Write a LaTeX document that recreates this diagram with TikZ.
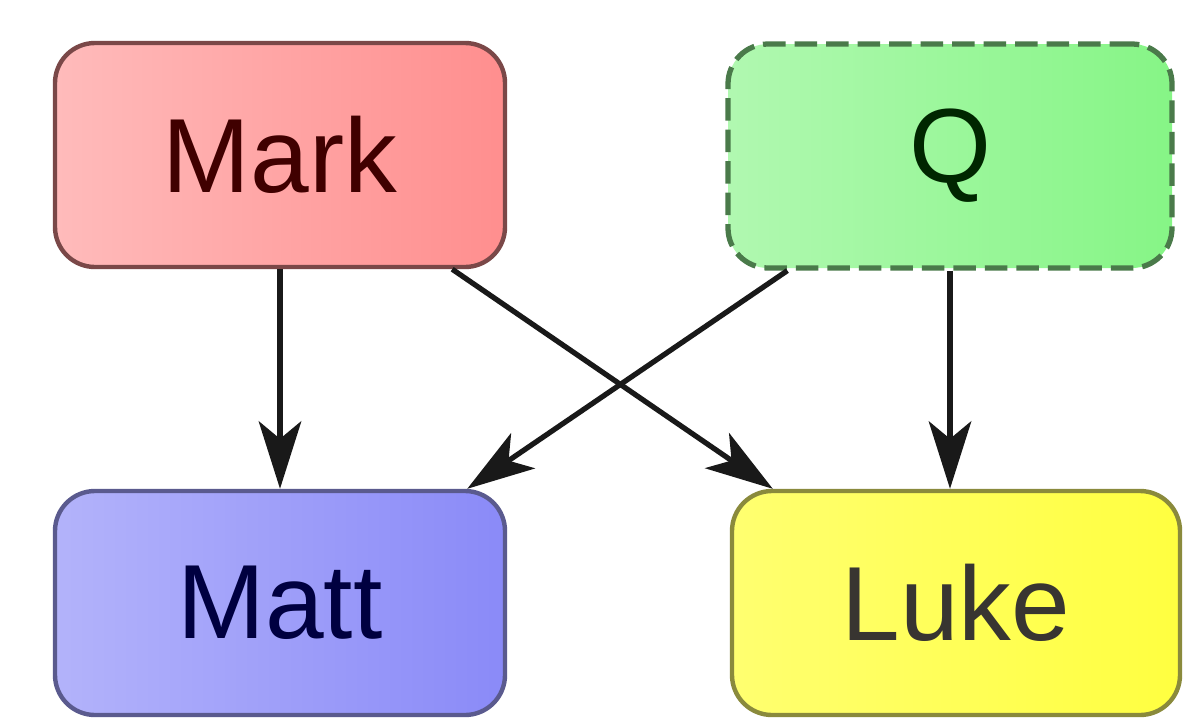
\documentclass[tikz,border=0pt]{standalone}
\usepackage{fontspec}
\setmainfont{Liberation Sans}
\usepackage{tikz}
\usetikzlibrary{arrows.meta}
\definecolor{markfill}{HTML}{FF8E8E}
\definecolor{markline}{HTML}{7A4848}
\definecolor{qfill}{HTML}{86F586}
\definecolor{qline}{HTML}{4A7A4A}
\definecolor{mattfill}{HTML}{8A8AF8}
\definecolor{mattline}{HTML}{5A5A8E}
\definecolor{lukefill}{HTML}{FFFF40}
\definecolor{lukeline}{HTML}{8A8A3C}

\begin{document}
\begin{tikzpicture}[
every node/.style={font=\fontsize{60}{64}\selectfont},
gospel/.style={rounded corners=0.8cm, line width=2.5pt, minimum width=9cm, minimum height=4.48cm, inner sep=0pt},
arr/.style={line width=3pt, draw=black!90, -{Stealth[length=1.35cm, width=0.85cm, inset=0.35cm]}}]
\useasboundingbox (0,0) rectangle (24.08,-14.4);

%the four boxes
\node[gospel, draw=markline, left color=markfill!60, right color=markfill, text=red!25!black] (mark) at (5.6,-3.1) {Mark};
\node[gospel, minimum width=8.88cm, line width=3pt, draw=qline, dash pattern=on 0.45cm off 0.18cm, left color=qfill!65, right color=qfill, text=green!15!black] (q) at (19.0,-3.12) {Q};
\node[gospel, draw=mattline, left color=mattfill!65, right color=mattfill, text=blue!25!black] (matt) at (5.6,-12.06) {Matt};
\node[gospel, minimum width=8.96cm, draw=lukeline, left color=lukefill!75, right color=lukefill, text=yellow!10!black] (luke) at (19.12,-12.06) {Luke};

%sources to gospels
\draw[arr] (mark.south) -- (matt.north);
\draw[arr] ([xshift=-1.1cm]mark.south east) -- ([xshift=0.86cm]luke.north west);
\draw[arr] ([xshift=1.24cm]q.south west) -- ([xshift=-0.8cm]matt.north east);
\draw[arr] (q.south) -- (q.south |- luke.north);
\end{tikzpicture}
\end{document}
